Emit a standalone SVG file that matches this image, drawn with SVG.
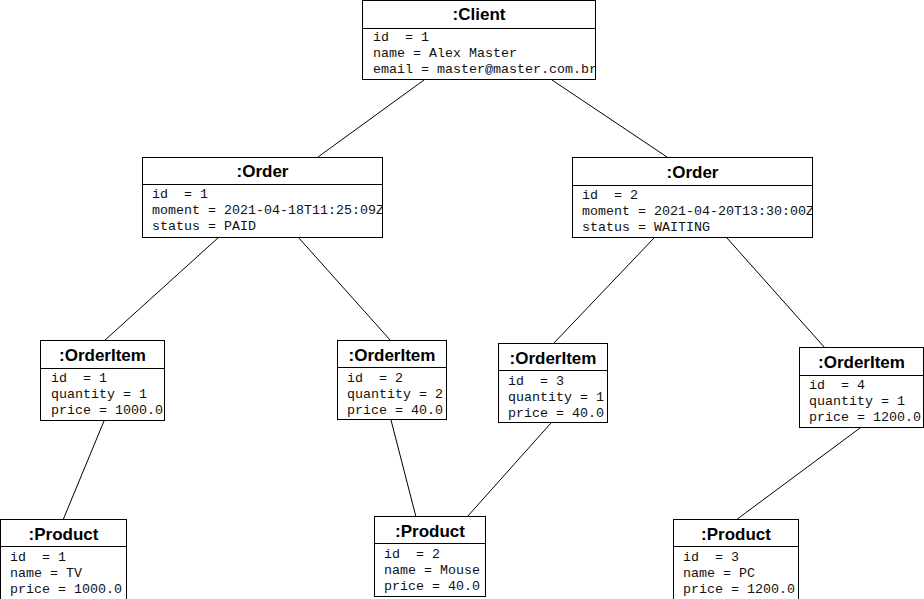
<svg xmlns="http://www.w3.org/2000/svg" width="924" height="599" viewBox="0 0 924 599">
  <style>
    .box { fill: #ffffff; stroke: #000000; stroke-width: 1; }
    .sep { stroke: #000000; stroke-width: 1; }
    .title { font-family: "Liberation Sans", Arial, sans-serif; font-weight: bold; font-size: 17px; fill: #000000; text-anchor: middle; }
    .attr { font-family: "Liberation Mono", "Courier New", monospace; font-size: 13.33px; fill: #111111; white-space: pre; }
    .link { stroke: #000000; stroke-width: 1; fill: none; }
  </style>
  <defs>
    <clipPath id="clip-client"><rect x="363" y="0" width="232" height="80"/></clipPath>
    <clipPath id="clip-order1"><rect x="143" y="157" width="239" height="80"/></clipPath>
    <clipPath id="clip-order2"><rect x="573" y="157" width="239" height="80"/></clipPath>
  </defs>
  <rect width="924" height="599" fill="#ffffff"/>

  <!-- links between objects -->
  <g id="connectors">
    <line class="link" x1="424" y1="80" x2="318" y2="157"/>
    <line class="link" x1="552" y1="80" x2="667" y2="157"/>
    <line class="link" x1="219" y1="237" x2="104" y2="341"/>
    <line class="link" x1="298" y1="237" x2="391" y2="341"/>
    <line class="link" x1="654" y1="238" x2="553" y2="344"/>
    <line class="link" x1="727" y1="238" x2="825" y2="348"/>
    <line class="link" x1="104" y1="421" x2="63" y2="520"/>
    <line class="link" x1="391" y1="420" x2="416" y2="517"/>
    <line class="link" x1="551" y1="423" x2="467" y2="517"/>
    <line class="link" x1="860" y1="428" x2="736" y2="520"/>
  </g>

  <g id="client">
    <rect class="box" x="362.5" y="0.5" width="233" height="79"/>
    <line class="sep" x1="362.5" y1="28.5" x2="595.5" y2="28.5"/>
    <text class="title" x="479" y="20">:Client</text>
    <g clip-path="url(#clip-client)">
      <text class="attr" x="373" y="41">id  = 1</text>
      <text class="attr" x="373" y="57">name = Alex Master</text>
      <text class="attr" x="373" y="73">email = master@master.com.br</text>
    </g>
  </g>

  <g id="order1">
    <rect class="box" x="142.5" y="157.5" width="240" height="80"/>
    <line class="sep" x1="142.5" y1="184.5" x2="382.5" y2="184.5"/>
    <text class="title" x="262.5" y="177">:Order</text>
    <g clip-path="url(#clip-order1)">
      <text class="attr" x="152" y="198">id  = 1</text>
      <text class="attr" x="152" y="214">moment = 2021-04-18T11:25:09Z</text>
      <text class="attr" x="152" y="230">status = PAID</text>
    </g>
  </g>

  <g id="order2">
    <rect class="box" x="572.5" y="157.5" width="240" height="80"/>
    <line class="sep" x1="572.5" y1="185.5" x2="812.5" y2="185.5"/>
    <text class="title" x="692.5" y="178">:Order</text>
    <g clip-path="url(#clip-order2)">
      <text class="attr" x="582" y="199">id  = 2</text>
      <text class="attr" x="582" y="215">moment = 2021-04-20T13:30:00Z</text>
      <text class="attr" x="582" y="231">status = WAITING</text>
    </g>
  </g>

  <g id="orderitem1">
    <rect class="box" x="40.5" y="340.5" width="124" height="80"/>
    <line class="sep" x1="40.5" y1="368.5" x2="164.5" y2="368.5"/>
    <text class="title" x="102.5" y="361">:OrderItem</text>
    <text class="attr" x="51" y="382">id  = 1</text>
    <text class="attr" x="51" y="398">quantity = 1</text>
    <text class="attr" x="51" y="414">price = 1000.0</text>
  </g>

  <g id="orderitem2">
    <rect class="box" x="337.5" y="340.5" width="109" height="79"/>
    <line class="sep" x1="337.5" y1="367.5" x2="446.5" y2="367.5"/>
    <text class="title" x="392" y="361">:OrderItem</text>
    <text class="attr" x="347" y="382">id  = 2</text>
    <text class="attr" x="347" y="398">quantity = 2</text>
    <text class="attr" x="347" y="414">price = 40.0</text>
  </g>

  <g id="orderitem3">
    <rect class="box" x="498.5" y="343.5" width="109" height="79"/>
    <line class="sep" x1="498.5" y1="370.5" x2="607.5" y2="370.5"/>
    <text class="title" x="553" y="364">:OrderItem</text>
    <text class="attr" x="508" y="385">id  = 3</text>
    <text class="attr" x="508" y="401">quantity = 1</text>
    <text class="attr" x="508" y="417">price = 40.0</text>
  </g>

  <g id="orderitem4">
    <rect class="box" x="799.5" y="347.5" width="124" height="80"/>
    <line class="sep" x1="799.5" y1="375.5" x2="923.5" y2="375.5"/>
    <text class="title" x="861.5" y="368">:OrderItem</text>
    <text class="attr" x="809" y="389">id  = 4</text>
    <text class="attr" x="809" y="405">quantity = 1</text>
    <text class="attr" x="809" y="421">price = 1200.0</text>
  </g>

  <g id="product1">
    <rect class="box" x="0.5" y="519.5" width="126" height="80"/>
    <line class="sep" x1="0.5" y1="546.5" x2="126.5" y2="546.5"/>
    <text class="title" x="63.5" y="540">:Product</text>
    <text class="attr" x="10" y="561">id  = 1</text>
    <text class="attr" x="10" y="577">name = TV</text>
    <text class="attr" x="10" y="593">price = 1000.0</text>
  </g>

  <g id="product2">
    <rect class="box" x="374.5" y="516.5" width="111" height="80"/>
    <line class="sep" x1="374.5" y1="543.5" x2="485.5" y2="543.5"/>
    <text class="title" x="430" y="537">:Product</text>
    <text class="attr" x="384" y="558">id  = 2</text>
    <text class="attr" x="384" y="574">name = Mouse</text>
    <text class="attr" x="384" y="590">price = 40.0</text>
  </g>

  <g id="product3">
    <rect class="box" x="673.5" y="519.5" width="125" height="80"/>
    <line class="sep" x1="673.5" y1="546.5" x2="798.5" y2="546.5"/>
    <text class="title" x="736" y="540">:Product</text>
    <text class="attr" x="683" y="561">id  = 3</text>
    <text class="attr" x="683" y="577">name = PC</text>
    <text class="attr" x="683" y="593">price = 1200.0</text>
  </g>
</svg>
